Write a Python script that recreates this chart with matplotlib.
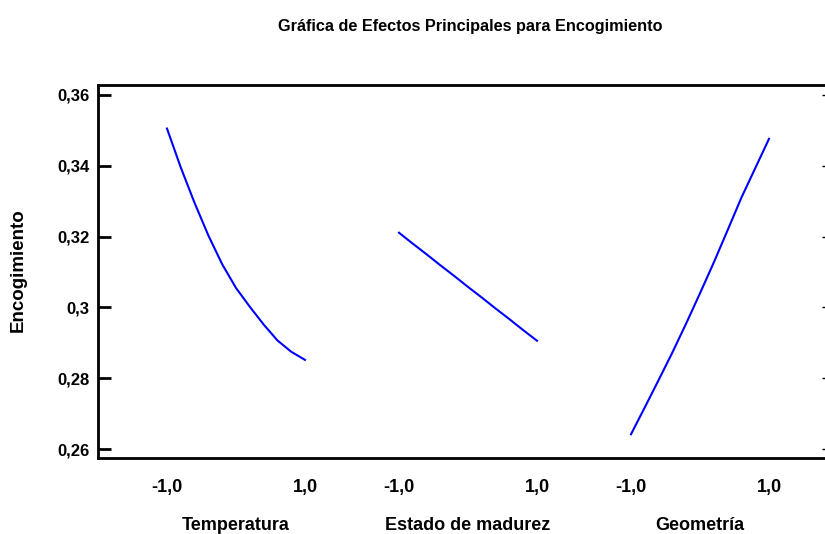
import numpy as np
import matplotlib.pyplot as plt

plt.rcParams['font.family'] = ['Liberation Sans Narrow', 'Liberation Sans', 'DejaVu Sans']
plt.rcParams['font.weight'] = 'bold'

factors = ['Temperatura', 'Estado de madurez', 'Geometría']
levels = [-1.0, -0.8, -0.6, -0.4, -0.2, 0.0, 0.2, 0.4, 0.6, 0.8, 1.0]
temperatura = [0.3505, 0.3395, 0.3295, 0.3203, 0.3122, 0.3055, 0.3002, 0.2952, 0.2907, 0.2875, 0.2852]
madurez = [0.3211, 0.3180, 0.3150, 0.3119, 0.3089, 0.3058, 0.3028, 0.2997, 0.2967, 0.2936, 0.2906]
geometria = [0.2642, 0.2718, 0.2795, 0.2873, 0.2955, 0.3040, 0.3127, 0.3218, 0.3310, 0.3393, 0.3476]
series = [temperatura, madurez, geometria]

yticks = [0.26, 0.28, 0.30, 0.32, 0.34, 0.36]
ylabels = ['0,26', '0,28', '0,3', '0,32', '0,34', '0,36']

# each factor drawn on its own stretch of the x axis
seg = 138
step = 232

fig = plt.figure(figsize=(8.25, 5.34), dpi=100)
ax = fig.add_axes([98 / 825, 1 - 458 / 534, 727 / 825, 373 / 534])

xt = []
for i, vals in enumerate(series):
    x = i * step + (np.array(levels) + 1) / 2 * seg
    ax.plot(x, vals, color='#0000ff', lw=1.5)
    xt += [i * step, i * step + seg]
    ax.text(i * step + seg / 2, -0.18, factors[i], transform=ax.get_xaxis_transform(),
            ha='center', va='center', fontsize=13, fontweight='bold')

ax.set_xlim(-69, 2 * step + seg + 56)
ax.set_ylim(0.2575, 0.3628)
ax.set_xticks(xt)
ax.set_xticklabels(['-1,0', '1,0'] * 3)
ax.set_yticks(yticks)
ax.set_yticklabels(ylabels)

for s in ['left', 'top', 'bottom']:
    ax.spines[s].set_linewidth(2)
ax.spines['right'].set_visible(False)
ax.tick_params(axis='x', length=0, pad=15, labelsize=13)
ax.tick_params(axis='y', direction='in', length=9, width=2, pad=6, labelsize=12)
ax.tick_params(axis='y', which='major', right=True)
for t in ax.yaxis.get_ticklines()[1::2]:
    t.set_markersize(2)
    t.set_markeredgewidth(1)
    t.set_color('#999999')

fig.text(470 / 825, 1 - 26 / 534, 'Gráfica de Efectos Principales para Encogimiento',
         ha='center', va='center', fontsize=11.7, fontweight='bold')
fig.text(18 / 825, 1 - 270 / 534, 'Encogimiento', rotation=90,
         ha='center', va='center', fontsize=13.5, fontweight='bold')

fig.savefig('out.png', dpi=100)
